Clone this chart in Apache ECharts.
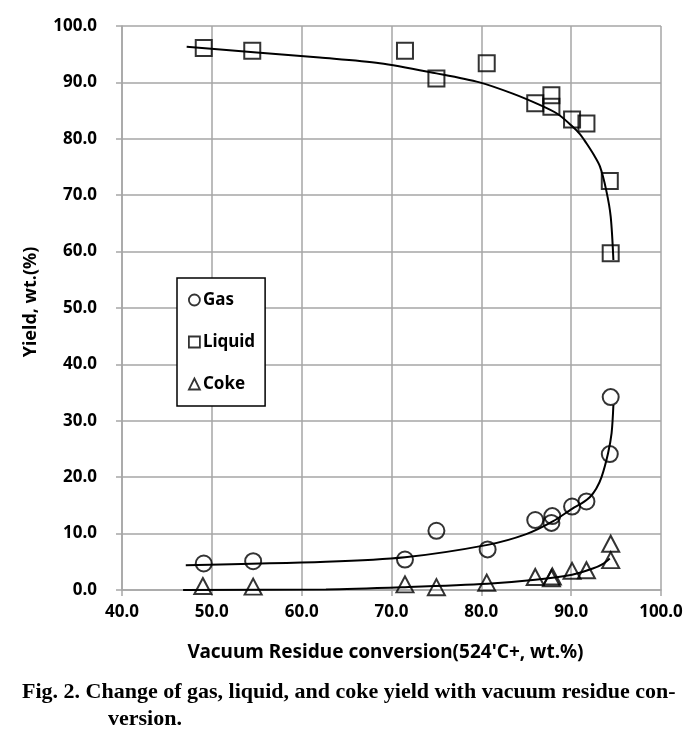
<!DOCTYPE html>
<html>
<head>
<meta charset="utf-8">
<script src="https://cdn.jsdelivr.net/npm/echarts@6/dist/echarts.min.js"></script>
<style>
html,body{margin:0;padding:0;background:#fff;}
#chart{width:699px;height:737px;}
</style>
</head>
<body>
<div id="chart"></div>
<script>
// Measured data points
const gasX = [49.1, 54.6, 71.5, 75.0, 80.7, 86.0, 87.9, 87.8, 90.1, 91.7, 94.3, 94.4];
const gasY = [4.7, 5.1, 5.4, 10.5, 7.2, 12.4, 13.1, 11.9, 14.8, 15.7, 24.1, 34.2];
const liqX = [49.1, 54.5, 71.5, 75.0, 80.6, 86.0, 87.8, 87.8, 90.1, 91.7, 94.3, 94.4];
const liqY = [96.1, 95.6, 95.6, 90.7, 93.4, 86.3, 87.7, 85.7, 83.4, 82.7, 72.5, 59.7];
const cokeX = [49.0, 54.6, 71.5, 75.0, 80.6, 86.0, 87.9, 87.8, 90.1, 91.7, 94.4, 94.4];
const cokeY = [0.7, 0.6, 1.0, 0.5, 1.3, 2.3, 2.4, 2.1, 3.4, 3.5, 5.3, 8.2];

// Trend curves
const liqFitX = [47.2, 55.0, 62.0, 68.7, 75.0, 79.8, 83.5, 86.5, 88.5, 90.0, 91.0, 91.7, 92.5, 93.2, 93.9, 94.4, 94.7];
const liqFitY = [96.3, 95.3, 94.4, 93.4, 91.6, 90.0, 88.0, 86.0, 84.4, 82.4, 80.8, 79.2, 77.2, 75.1, 70.9, 66.2, 58.5];
const gasFitX = [47.1, 62.7, 71.5, 80.7, 85.0, 88.0, 90.1, 91.2, 92.1, 92.8, 93.4, 94.1, 94.5, 94.7];
const gasFitY = [4.4, 5.0, 5.8, 8.0, 9.9, 12.2, 14.4, 15.4, 16.5, 18.0, 20.1, 24.2, 27.8, 32.8];
const cokeFitX = [46.8, 62.7, 71.5, 80.7, 86.0, 90.1, 92.4, 93.5, 94.3];
const cokeFitY = [0.0, 0.1, 0.5, 1.1, 1.8, 2.7, 3.8, 4.6, 5.6];

const xTicks = {min: 40, max: 100, interval: 10};
const yTicks = {min: 0, max: 100, interval: 10};

const zip = (a, b) => a.map((v, i) => [v, b[i]]);

const chart = echarts.init(document.getElementById('chart'));
const font = '"Noto Sans", "Open Sans", sans-serif';
const grid = '#a6a6a6';
const markerStyle = {color: 'rgba(0,0,0,0)', borderColor: '#000', borderWidth: 2};

chart.setOption({
  animation: false,
  backgroundColor: '#fff',
  grid: {left: 122, top: 26, width: 539, height: 564, containLabel: false},
  xAxis: {
    type: 'value', min: xTicks.min, max: xTicks.max, interval: xTicks.interval,
    name: "Vacuum Residue conversion(524'C+, wt.%)",
    nameLocation: 'middle', nameGap: 53,
    nameTextStyle: {fontFamily: font, fontWeight: 'bold', fontSize: 19, color: '#000', padding: [0, 12, 0, 0]},
    axisLine: {lineStyle: {color: grid, width: 1.5}},
    axisTick: {show: true, length: 6, lineStyle: {color: grid, width: 1.5}},
    splitLine: {show: true, lineStyle: {color: grid, width: 1.5}},
    axisLabel: {formatter: v => v.toFixed(1), fontFamily: font, fontWeight: 'bold', fontSize: 17, color: '#000', margin: 14}
  },
  yAxis: {
    type: 'value', min: yTicks.min, max: yTicks.max, interval: yTicks.interval,
    name: 'Yield, wt.(%)',
    nameLocation: 'middle', nameGap: 82,
    nameTextStyle: {fontFamily: font, fontWeight: 'bold', fontSize: 18, color: '#000', padding: [0, 0, 0, 12]},
    axisLine: {show: true, lineStyle: {color: grid, width: 1.5}},
    axisTick: {show: true, length: 6, lineStyle: {color: grid, width: 1.5}},
    splitLine: {show: true, lineStyle: {color: grid, width: 1.5}},
    axisLabel: {formatter: v => v.toFixed(1), fontFamily: font, fontWeight: 'bold', fontSize: 17, color: '#000', margin: 25}
  },
  legend: {
    data: ['Gas', 'Liquid', 'Coke'],
    orient: 'vertical', left: 177, top: 278,
    padding: [12, 10, 12, 11],
    itemGap: 22, itemWidth: 11, itemHeight: 11,
    borderColor: '#000', borderWidth: 1.5, backgroundColor: '#fff',
    itemStyle: {color: 'rgba(0,0,0,0)', borderColor: '#000', borderWidth: 1.8},
    textStyle: {fontFamily: font, fontWeight: 'bold', fontSize: 17, color: '#000', lineHeight: 20, padding: [0, 0, 0, -2]}
  },
  series: [
    {name: 'Liquid fit', type: 'line', data: zip(liqFitX, liqFitY), smooth: 0.3, showSymbol: false, lineStyle: {color: '#000', width: 2}, silent: true, z: 3},
    {name: 'Gas fit', type: 'line', data: zip(gasFitX, gasFitY), smooth: 0.3, showSymbol: false, lineStyle: {color: '#000', width: 2}, silent: true, z: 3},
    {name: 'Coke fit', type: 'line', data: zip(cokeFitX, cokeFitY), smooth: 0.3, showSymbol: false, lineStyle: {color: '#000', width: 2}, silent: true, z: 3},
    {name: 'Gas', type: 'scatter', data: zip(gasX, gasY), symbol: 'circle', symbolSize: 16, itemStyle: markerStyle, z: 4},
    {name: 'Liquid', type: 'scatter', data: zip(liqX, liqY), symbol: 'rect', symbolSize: 16, itemStyle: markerStyle, z: 4},
    {name: 'Coke', type: 'scatter', data: zip(cokeX, cokeY), symbol: 'triangle', symbolSize: [17, 16], itemStyle: markerStyle, z: 4}
  ],
  graphic: [
    {type: 'text', left: 22, top: 681, style: {text: 'Fig. 2. Change of gas, liquid, and coke yield with vacuum residue con-', font: 'bold 22px "Liberation Serif", serif', fill: '#000'}},
    {type: 'text', left: 108, top: 708, style: {text: 'version.', font: 'bold 22px "Liberation Serif", serif', fill: '#000'}}
  ]
});
</script>
</body>
</html>
